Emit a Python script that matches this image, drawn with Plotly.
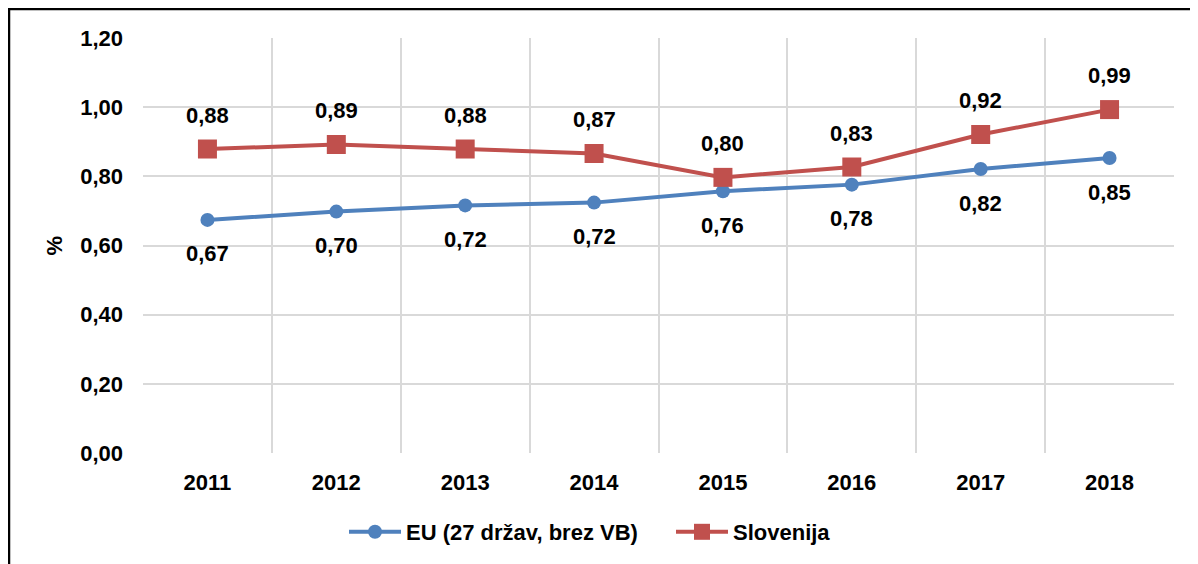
import plotly.graph_objects as go

years = ["2011", "2012", "2013", "2014", "2015", "2016", "2017", "2018"]
eu_vals = [0.674, 0.698, 0.716, 0.724, 0.757, 0.776, 0.821, 0.853]
si_vals = [0.879, 0.892, 0.879, 0.866, 0.797, 0.827, 0.921, 0.993]
eu_name = "EU (27 držav, brez VB)"
si_name = "Slovenija"
y_ticks = [0.0, 0.2, 0.4, 0.6, 0.8, 1.0, 1.2]

FONT = "Liberation Sans, Arial, sans-serif"
BLUE = "#4F81BD"
RED = "#C0504D"
GRID = "#D9D9D9"
FS = 22

W, H = 1190, 556
ML, MR, MT, MB = 135, 24, 30, 111
PW, PH = W - ML - MR, H - MT - MB

xpos = list(range(len(years)))
bounds = [i - 0.5 for i in range(len(years) + 1)]

fig = go.Figure()
fig.add_trace(go.Scatter(
    x=xpos, y=eu_vals, name=eu_name, mode="lines+markers",
    line=dict(color=BLUE, width=4),
    marker=dict(symbol="circle", size=14, color=BLUE),
))
fig.add_trace(go.Scatter(
    x=xpos, y=si_vals, name=si_name, mode="lines+markers",
    line=dict(color=RED, width=4),
    marker=dict(symbol="square", size=19, color=RED),
))

def fmt(v):
    return f"{v:.2f}".replace(".", ",")

for x, v in zip(xpos, si_vals):
    fig.add_annotation(x=x, y=v, text=fmt(v), showarrow=False, yshift=34,
                       font=dict(family=FONT, size=FS, color="black", weight="bold"))
for x, v in zip(xpos, eu_vals):
    fig.add_annotation(x=x, y=v, text=fmt(v), showarrow=False, yshift=-34,
                       font=dict(family=FONT, size=FS, color="black", weight="bold"))

# y-axis title
fig.add_annotation(xref="paper", yref="paper", x=(46 - ML) / PW, y=0.5,
                   xanchor="center", yanchor="middle",
                   text="%", textangle=-90, showarrow=False,
                   font=dict(family=FONT, size=FS, color="black", weight="bold"))

# outer chart border (left and top visible)
fig.add_shape(type="rect", xref="paper", yref="paper",
              x0=-(ML - 1) / PW, x1=1.2, y0=-0.5, y1=1 + (MT - 1) / PH,
              line=dict(color="black", width=2.5), layer="above")

fig.update_layout(
    width=W, height=H,
    margin=dict(l=ML, r=MR, t=MT, b=MB, autoexpand=False),
    paper_bgcolor="white", plot_bgcolor="white",
    separators=",.",
    font=dict(family=FONT, size=FS, color="black"),
    showlegend=True,
    legend=dict(orientation="h", x=(336 - ML) / PW, xanchor="left",
                y=-(524 - (MT + PH)) / PH, yanchor="middle",
                font=dict(family=FONT, size=FS, color="black", weight="bold"),
                itemwidth=52, entrywidth=260, entrywidthmode="pixels",
                tracegroupgap=0),
)
fig.update_xaxes(
    range=[-0.5, len(years) - 0.5],
    tickvals=xpos, ticktext=years, showgrid=False,
    minor=dict(tickvals=bounds, showgrid=True, gridcolor=GRID, gridwidth=2, ticks=""),
    zeroline=False, ticks="", showline=False,
    tickfont=dict(family=FONT, size=FS, color="black", weight="bold"),
    ticklabelstandoff=14, automargin=False,
)
fig.update_yaxes(
    range=[0, 1.2], tickvals=y_ticks, tickformat=".2f",
    showgrid=True, gridcolor=GRID, gridwidth=2, zeroline=False,
    showline=False, ticks="", ticklabelstandoff=19, automargin=False,
    tickfont=dict(family=FONT, size=FS, color="black", weight="bold"),
)

fig.write_html("out.html")
